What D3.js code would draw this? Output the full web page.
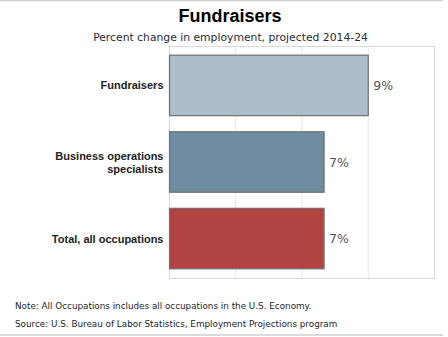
<!DOCTYPE html>
<html><head><meta charset="utf-8">
<script src="https://cdn.jsdelivr.net/npm/d3@7"></script>
<style>html,body{margin:0;padding:0;background:#fff;}svg{display:block;}</style>
</head><body>
<svg id="c" width="448" height="337"></svg>
<script>
const categories = ["Fundraisers", "Business operations specialists", "Total, all occupations"];
const categoryLines = [["Fundraisers"], ["Business operations", "specialists"], ["Total, all occupations"]];
const values = [9, 7, 7];
const valueLabels = ["9%", "7%", "7%"];
const colors = ["#adbdc9", "#6f8ca1", "#b24343"];
const gridTicks = [0, 3, 6, 9, 12];
const title = "Fundraisers";
const subtitle = "Percent change in employment, projected 2014-24";
const notes = ["Note: All Occupations includes all occupations in the U.S. Economy.",
               "Source: U.S. Bureau of Labor Statistics, Employment Projections program"];

const svg = d3.select("#c");
const pLeft = 169.5, pRight = 434.5, pTop = 46, pBottom = 278;

svg.append("line").attr("x1",0).attr("x2",443).attr("y1",0.5).attr("y2",0.5).attr("stroke","#cfcfcf").attr("stroke-width",1.5);
svg.append("line").attr("x1",0).attr("x2",443).attr("y1",335).attr("y2",335).attr("stroke","#cfcfcf").attr("stroke-width",1.5);

const x = d3.scaleLinear().domain([0, 12]).range([pLeft, pRight]);
const y = d3.scaleBand().domain(categories).range([pTop, pBottom]).paddingInner(0.21).paddingOuter(0.12);

// grid
svg.append("g").selectAll("line").data(gridTicks).join("line")
  .attr("x1", d => x(d)).attr("x2", d => x(d)).attr("y1", pTop).attr("y2", pBottom)
  .attr("stroke", "#e8e8e8").attr("stroke-width", 1);
svg.append("rect").attr("x", pLeft).attr("y", pTop + 0.5).attr("width", pRight - pLeft).attr("height", pBottom - pTop)
  .attr("fill", "none").attr("stroke", "#d9d9d9").attr("stroke-width", 1);

// bars
svg.append("g").selectAll("rect").data(categories).join("rect")
  .attr("x", x(0)).attr("y", d => y(d))
  .attr("width", (d,i) => x(values[i]) - x(0)).attr("height", y.bandwidth())
  .attr("fill", (d,i) => colors[i]).attr("stroke", "#707070").attr("stroke-width", 1.2);

// value labels
svg.append("g").selectAll("text").data(categories).join("text")
  .attr("x", (d,i) => x(values[i]) + 5).attr("y", d => y(d) + y.bandwidth()/2 + 4.5)
  .attr("font-family", "DejaVu Sans, sans-serif").attr("font-size", 12.5).attr("fill", "#555")
  .text((d,i) => valueLabels[i]);

// category labels
const cg = svg.append("g");
categories.forEach((c, i) => {
  const lines = categoryLines[i];
  const cy = y(c) + y.bandwidth()/2;
  const t = cg.append("text").attr("text-anchor", "end")
    .attr("font-family", "Liberation Sans, Arial, sans-serif").attr("font-weight", "bold")
    .attr("font-size", 11).attr("fill", "#222");
  lines.forEach((l, j) => {
    t.append("tspan").attr("x", 163.5).attr("y", cy + 4 + (j - (lines.length - 1)/2) * 13).text(l);
  });
});

// title
svg.append("text").attr("x", 230).attr("y", 22).attr("text-anchor", "middle")
  .attr("font-family", "Liberation Sans, Arial, sans-serif").attr("font-weight", "bold")
  .attr("font-size", 18).attr("fill", "#000").text(title);

function fitText(sel, w) {
  const len = sel.node().getComputedTextLength();
  const fs = parseFloat(sel.attr("font-size"));
  sel.attr("font-size", fs * w / len);
}
const st = svg.append("text").attr("x", 230.5).attr("y", 40.5).attr("text-anchor", "middle")
  .attr("font-family", "DejaVu Sans, sans-serif").attr("font-size", 12).attr("fill", "#2a2a3a").text(subtitle);
fitText(st, 275);

const n1 = svg.append("text").attr("x", 15).attr("y", 308.5)
  .attr("font-family", "DejaVu Sans, sans-serif").attr("font-size", 9).attr("fill", "#1c1c30").text(notes[0]);
const n2 = svg.append("text").attr("x", 15).attr("y", 326.5)
  .attr("font-family", "DejaVu Sans, sans-serif").attr("font-size", 9).attr("fill", "#1c1c30").text(notes[1]);
fitText(n2, 323);
n1.attr("font-size", n2.attr("font-size"));
</script>
</body></html>
